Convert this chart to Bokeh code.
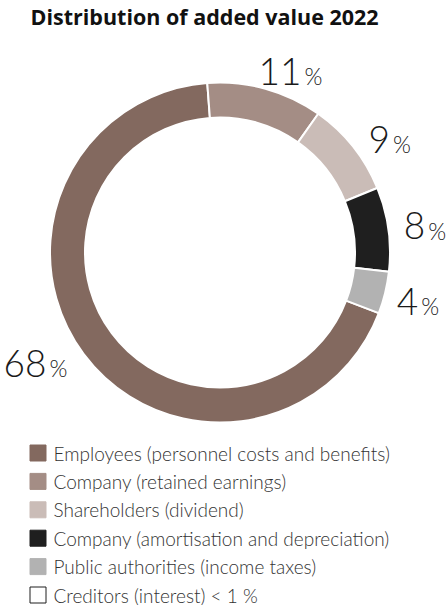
import math
from bokeh.plotting import figure
from bokeh.models import ColumnDataSource, Range1d
from bokeh.core.properties import value
from bokeh.embed import file_html
from bokeh.resources import INLINE

# ---- data ----
title = "Distribution of added value 2022"
categories = [
    "Employees (personnel costs and benefits)",
    "Company (retained earnings)",
    "Shareholders (dividend)",
    "Company (amortisation and depreciation)",
    "Public authorities (income taxes)",
]
shares = [68, 11, 9, 8, 4]
pct_labels = ["68", "11", "9", "8", "4"]
colors = ["#83695F", "#A48D85", "#CABCB7", "#1F1F1F", "#B2B2B2"]
extra_label = "Creditors (interest) < 1 %"

legend_labels = categories + [extra_label]
legend_fills = colors + ["#FFFFFF"]
legend_lines = colors + ["#1F1F1F"]

# ---- layout (data units = pixels, y measured from the bottom) ----
W, H = 448, 605
CX, CY = 219.5, H - 252.0
R_OUT, R_IN = 170.0, 135.0
START = math.radians(-20.9)   # clockwise start of the first slice

total = sum(shares)
starts, ends, mids = [], [], []
a = START
for s in shares:
    span = 2 * math.pi * s / total
    starts.append(a)
    ends.append(a - span)
    mids.append(a - span / 2)
    a -= span

p = figure(width=W, height=H, output_backend="svg", toolbar_location=None,
           x_range=Range1d(0, W), y_range=Range1d(0, H), min_border=0)
p.axis.visible = False
p.grid.visible = False
p.outline_line_color = None
p.background_fill_color = "white"

ring = ColumnDataSource(dict(start=starts, end=ends, color=colors,
                             x=[CX] * len(shares), y=[CY] * len(shares)))
p.annular_wedge(x="x", y="y", inner_radius=R_IN, outer_radius=R_OUT,
                start_angle="start", end_angle="end", direction="clock",
                fill_color="color", line_color="white", line_width=2, source=ring)

# percentage labels
nudge = [-4, -9, -5, -0.5, 0]
rad = [205, 199, 205, 208, 205]
lx, ly = [], []
for m, n, r in zip(mids, nudge, rad):
    ang = m + math.radians(n)
    lx.append(CX + r * math.cos(ang))
    ly.append(CY + r * math.sin(ang))
lab = ColumnDataSource(dict(x=lx, y=ly, num=pct_labels, pc=["%"] * len(pct_labels)))
label_font = value("Lato Light, Lato")
p.text(x="x", y="y", text="num", source=lab, text_align="right", x_offset=-1,
       text_baseline="middle", text_font=label_font, text_font_size="37px",
       text_color="#1a1a1a")
p.text(x="x", y="y", text="pc", source=lab, text_align="left", x_offset=2, y_offset=5,
       text_baseline="middle", text_font=label_font, text_font_size="23px",
       text_color="#1a1a1a")

# title
p.text(x=[30], y=[H - 16], text=[title], text_font=value("Open Sans"),
       text_font_style="bold", text_font_size="21.5px", text_color="#111111",
       text_baseline="middle", text_align="left")

# legend
n = len(legend_labels)
row0, step = 452.5, 28.4
sq_y = [H - (row0 + i * step) for i in range(n)]
leg = ColumnDataSource(dict(x=[37.5] * n, y=sq_y, fill=legend_fills, line=legend_lines,
                            tx=[53] * n, ty=sq_y, label=legend_labels))
p.rect(x="x", y="y", width=16, height=16, fill_color="fill", line_color="line",
       line_width=1, source=leg)
p.text(x="tx", y="ty", text="label", source=leg, text_font=value("Lato Light, Lato"),
       text_font_size="19px", text_color="#333333", text_baseline="middle")

open("out.html", "w").write(file_html(p, INLINE))
